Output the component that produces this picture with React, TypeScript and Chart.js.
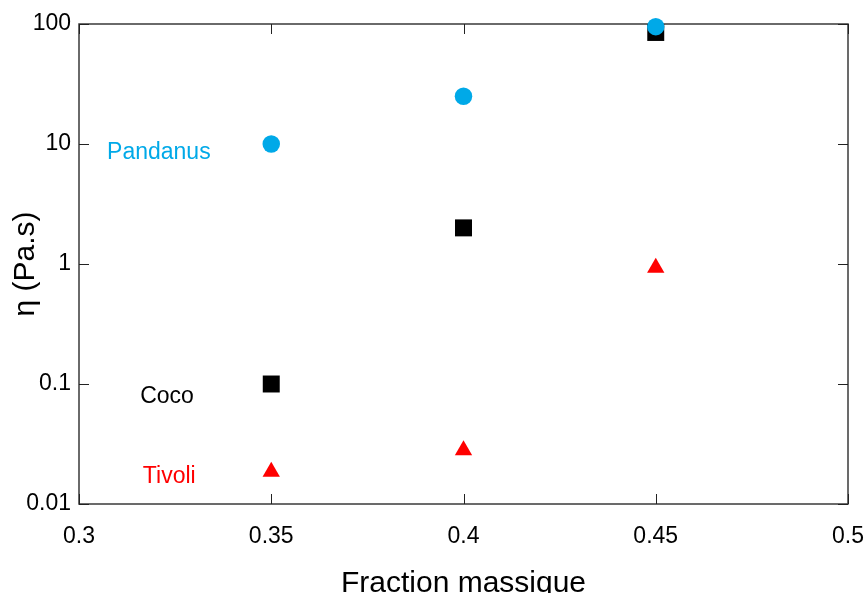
import React, { useEffect, useRef } from "react";
import { Chart, registerables } from "chart.js";

Chart.register(...registerables);

const fractions = [0.35, 0.4, 0.45];
const pandanus = [10, 25, 95];
const coco = [0.1, 2, 85];
const tivoli = [0.0186, 0.028, 0.93];

const xTicks = [0.3, 0.35, 0.4, 0.45, 0.5];
const xTickLabels = ["0.3", "0.35", "0.4", "0.45", "0.5"];
const yTicks = [0.01, 0.1, 1, 10, 100];
const yTickLabels = ["0.01", "0.1", "1", "10", "100"];

const seriesNames = ["Pandanus", "Coco", "Tivoli"];
const seriesColors = ["#00a9e8", "#000000", "#ff0000"];
const labelX = [0.3073, 0.3159, 0.3166];
const labelY = [8.5, 0.078, 0.0169];

const FONT = "'Liberation Sans', Arial, Helvetica, sans-serif";

const framePlugin = {
  id: "frame",
  beforeDatasetsDraw(chart: any) {
    const { ctx, chartArea: a, scales } = chart;
    ctx.save();
    ctx.strokeStyle = "#3a3a3a";
    ctx.lineWidth = 1.5;
    ctx.strokeRect(a.left, a.top, a.right - a.left, a.bottom - a.top);
    ctx.lineWidth = 1;
    ctx.strokeStyle = "#222";
    ctx.beginPath();
    xTicks.forEach((v) => {
      const px = Math.round(scales.x.getPixelForValue(v)) + 0.5;
      ctx.moveTo(px, a.bottom);
      ctx.lineTo(px, a.bottom - 10);
      ctx.moveTo(px, a.top);
      ctx.lineTo(px, a.top + 10);
    });
    yTicks.forEach((v) => {
      const py = Math.round(scales.y.getPixelForValue(v)) + 0.5;
      ctx.moveTo(a.left, py);
      ctx.lineTo(a.left + 10, py);
      ctx.moveTo(a.right, py);
      ctx.lineTo(a.right - 10, py);
    });
    ctx.stroke();
    ctx.restore();
  },
  afterDatasetsDraw(chart: any) {
    const { ctx, scales } = chart;
    ctx.save();
    ctx.font = `23px ${FONT}`;
    ctx.textAlign = "left";
    ctx.textBaseline = "middle";
    seriesNames.forEach((name, i) => {
      ctx.fillStyle = seriesColors[i];
      ctx.fillText(
        name,
        scales.x.getPixelForValue(labelX[i]),
        scales.y.getPixelForValue(labelY[i])
      );
    });
    ctx.restore();
  },
};

export default function App() {
  const canvasRef = useRef<HTMLCanvasElement | null>(null);

  useEffect(() => {
    if (!canvasRef.current) return;
    const mk = (data: number[]) => fractions.map((x, i) => ({ x, y: data[i] }));
    const chart = new Chart(canvasRef.current, {
      type: "scatter",
      data: {
        datasets: [
          {
            label: seriesNames[0],
            data: mk(pandanus),
            pointStyle: "circle",
            pointRadius: 8.75,
            backgroundColor: seriesColors[0],
            borderColor: seriesColors[0],
            borderWidth: 0,
            clip: false as any,
          },
          {
            label: seriesNames[1],
            data: mk(coco),
            pointStyle: "rect",
            pointRadius: 12,
            backgroundColor: seriesColors[1],
            borderColor: seriesColors[1],
            borderWidth: 0,
            clip: false as any,
          },
          {
            label: seriesNames[2],
            data: mk(tivoli),
            pointStyle: "triangle",
            pointRadius: 10,
            backgroundColor: seriesColors[2],
            borderColor: seriesColors[2],
            borderWidth: 0,
            clip: false as any,
          },
        ],
      },
      options: {
        animation: false,
        responsive: false,
        devicePixelRatio: 1,
        layout: { padding: { top: 24, right: 18, left: 0, bottom: 0 } },
        plugins: {
          legend: { display: false },
          tooltip: { enabled: false },
        },
        scales: {
          x: {
            type: "linear",
            min: 0.3,
            max: 0.5,
            grid: { display: false, drawTicks: false },
            border: { display: false },
            afterBuildTicks: (s: any) => {
              s.ticks = xTicks.map((v) => ({ value: v }));
            },
            afterFit: (s: any) => {
              s.height = 89;
              s.paddingLeft = 0;
              s.paddingRight = 0;
            },
            ticks: {
              autoSkip: false,
              maxRotation: 0,
              padding: 19,
              color: "#000",
              font: { family: FONT, size: 23 },
              callback: (_v: any, i: number) => xTickLabels[i],
            },
            title: {
              display: true,
              text: "Fraction massique",
              color: "#000",
              font: { family: FONT, size: 30, lineHeight: 1 },
              padding: { top: 0, bottom: -6 },
            },
          },
          y: {
            type: "logarithmic",
            min: 0.01,
            max: 100,
            grid: { display: false, drawTicks: false },
            border: { display: false },
            afterBuildTicks: (s: any) => {
              s.ticks = yTicks.map((v) => ({ value: v }));
            },
            afterFit: (s: any) => {
              s.width = 79;
            },
            ticks: {
              padding: 8,
              color: "#000",
              font: { family: FONT, size: 23 },
              callback: (_v: any, i: number) => yTickLabels[i],
            },
            title: {
              display: true,
              text: "η (Pa.s)",
              color: "#000",
              font: { family: FONT, size: 30, lineHeight: 1 },
              padding: { top: 11, bottom: 0 },
            },
          },
        },
      },
      plugins: [framePlugin],
    });
    return () => chart.destroy();
  }, []);

  return (
    <div style={{ position: "fixed", left: 0, top: 0, width: 866, height: 593, background: "#fff" }}>
      <canvas ref={canvasRef} width={866} height={593} style={{ display: "block" }} />
    </div>
  );
}
